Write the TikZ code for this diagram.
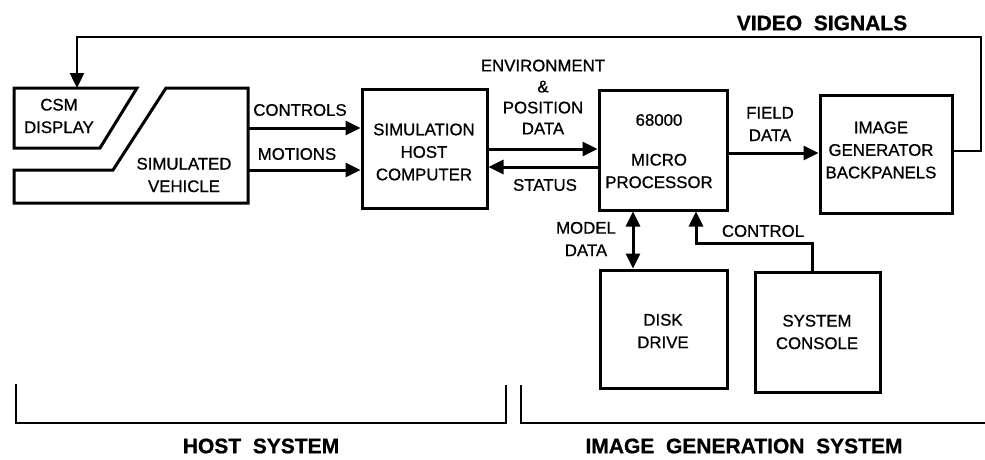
\documentclass[tikz,border=0pt]{standalone}
\usepackage{fontspec}
\setmainfont[FakeBold=0.8]{Liberation Sans}
\usetikzlibrary{arrows.meta}
\begin{document}
\begin{tikzpicture}[x=1pt,y=-1pt,
  box/.style={draw,line width=3pt,inner sep=0pt},
  lbl/.style={font=\fontsize{16.8}{22.5}\selectfont,inner sep=0pt,align=center},
  big/.style={font=\fontsize{21}{24}\selectfont\bfseries,inner sep=0pt},
  arr/.style={line width=3pt,-{Triangle[length=15pt,width=14pt]}},
  darr/.style={line width=3pt,{Triangle[length=15pt,width=14pt]}-{Triangle[length=15pt,width=14pt]}},
  vid/.style={line width=2.4pt,-{Triangle[length=15pt,width=14pt]}},
  ln/.style={line width=3pt},
  brk/.style={line width=2.2pt}]
\useasboundingbox (0,0) rectangle (985,459);
% CSM display and simulated vehicle
\draw[ln,line join=miter] (14,88) -- (137,88) -- (100,148) -- (14,148) -- cycle;
\draw[ln,line join=miter] (166,88) -- (248,88) -- (248,203) -- (14,203) -- (14,170) -- (113,170) -- cycle;
\coordinate (csmtop) at (77,88);
\coordinate (vctl) at (248,128);
\coordinate (vmot) at (248,170);
\node[lbl] (csm) at (59,116) {CSM\\DISPLAY};
\node[lbl] (veh) at (184,175) {SIMULATED\\VEHICLE};
% boxes
\node[box,minimum width=125pt,minimum height=119pt] (sim) at (424.5,148.5) {};
\node[lbl] (simt) at (424,152) {SIMULATION\\HOST\\COMPUTER};
\node[box,minimum width=128pt,minimum height=120pt] (micro) at (663,150) {};
\node[lbl] (m68) at (659,120) {68000};
\node[lbl] (mpt) at (659,171) {MICRO\\PROCESSOR};
\node[box,minimum width=132pt,minimum height=118pt] (ig) at (886,154) {};
\node[lbl] (igt) at (881,150) {IMAGE\\GENERATOR\\BACKPANELS};
\node[box,minimum width=127pt,minimum height=118pt] (disk) at (663.5,329) {};
\node[lbl] (diskt) at (663,331) {DISK\\DRIVE};
\node[box,minimum width=125pt,minimum height=120pt] (con) at (817.5,332) {};
\node[lbl] (cont) at (817,332) {SYSTEM\\CONSOLE};
% connectors
\draw[arr] (vctl) -- (vctl -| sim.west);
\draw[arr] (vmot) -- (vmot -| sim.west);
\node[lbl] (ctl) at (300,110) {CONTROLS};
\node[lbl] (mot) at (297,154) {MOTIONS};
\coordinate (env) at (0,149);
\coordinate (sta) at (0,167);
\draw[arr] (sim.east |- env) -- (micro.west |- env);
\draw[arr] (micro.west |- sta) -- (sim.east |- sta);
\node[lbl,font=\fontsize{16.8}{21}\selectfont] (envt) at (543,97) {ENVIRONMENT\\\&\\POSITION\\DATA};
\node[lbl] (stat) at (545,185) {STATUS};
\coordinate (fld) at (0,153);
\draw[arr] (micro.east |- fld) -- (ig.west |- fld);
\node[lbl] (fldt) at (770,124) {FIELD\\DATA};
% video signals
\coordinate (vs1) at (981,151);
\coordinate (vs2) at (981,37);
\draw[vid,line join=miter] (ig.east |- vs1) -- (vs1) -- (vs2) -- (csmtop |- vs2) -- (csmtop);
\node[big] (vst) at (822,23) {VIDEO\ \ SIGNALS};
% model data
\coordinate (md) at (633,0);
\draw[darr] (md |- micro.south) -- (md |- disk.north);
\node[lbl] (mdt) at (586,239) {MODEL\\DATA};
% control
\coordinate (cx) at (812,0);
\coordinate (cy) at (0,243);
\coordinate (cm) at (696,0);
\draw[arr,line join=miter] (cx |- con.north) -- (cx |- cy) -- (cm |- cy) -- (cm |- micro.south);
\node[lbl] (ctlt) at (763,231) {CONTROL};
% brackets
\draw[brk] (16,384) -- (16,423) -- (506,423) -- (506,385);
\draw[brk] (521,385) -- (521,423) -- (985,423);
\node[big] (hs) at (261,446) {HOST\ \ SYSTEM};
\node[big] (igs) at (744,446) {IMAGE\ \ GENERATION\ \ SYSTEM};
\end{tikzpicture}
\end{document}
